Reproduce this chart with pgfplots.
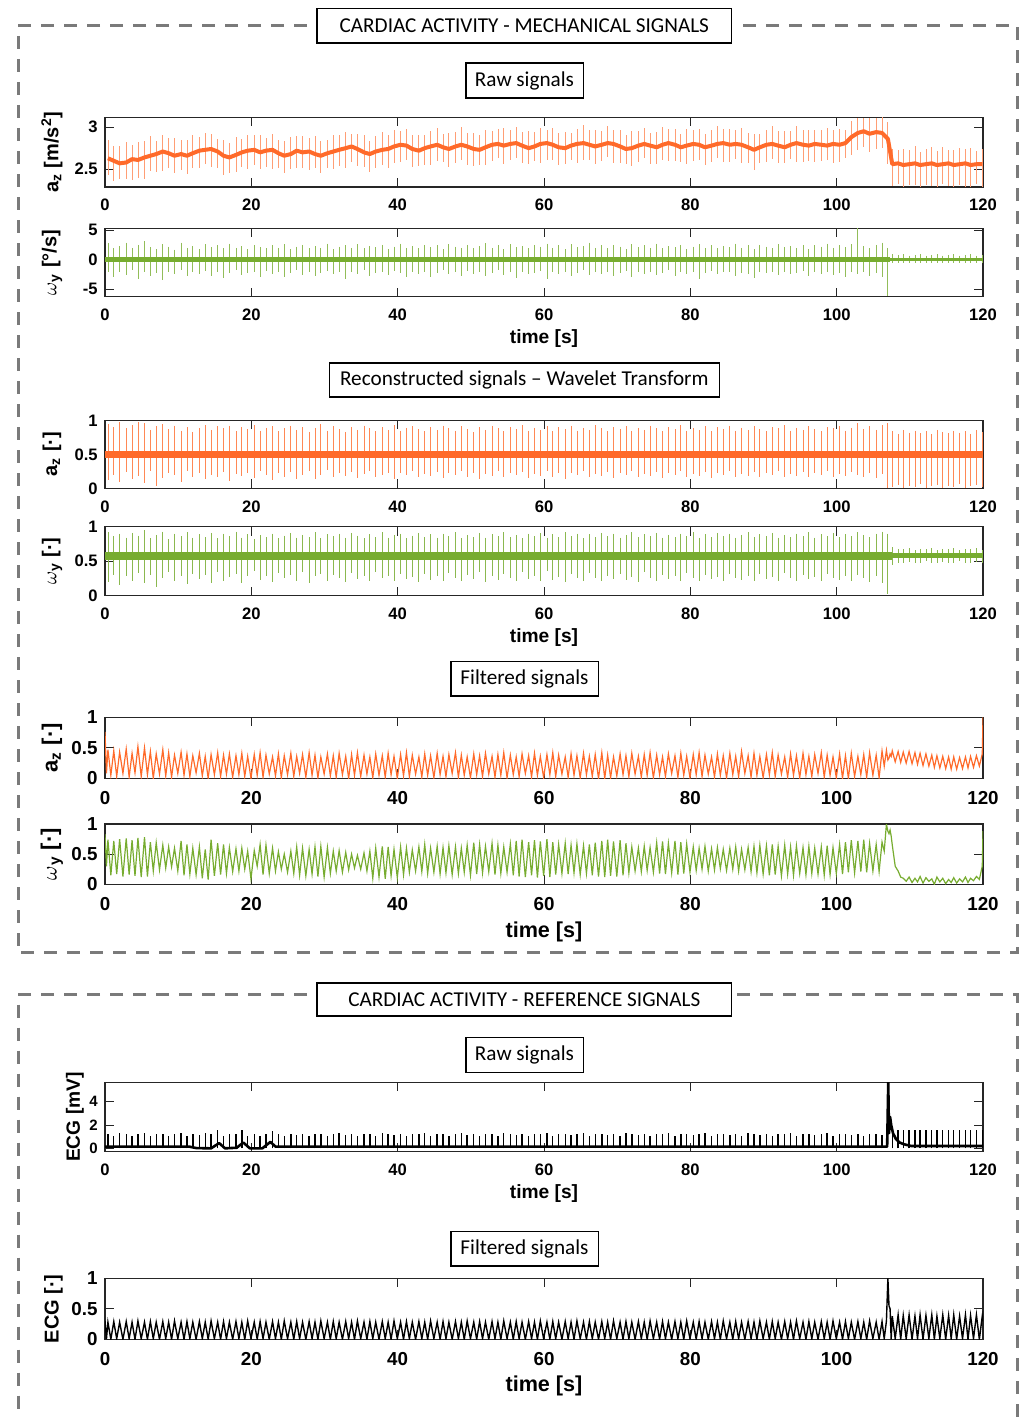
\documentclass[border=0pt]{standalone}
\usepackage{fontspec}
\setmainfont{Liberation Sans}
\newfontfamily\carlito{Carlito}
\usepackage{pgfplots}
\usepackage{pgfplotstable}
\pgfplotsset{compat=1.18}
\definecolor{oc}{RGB}{255,106,42}
\definecolor{gc}{RGB}{119,172,48}
\definecolor{dg}{RGB}{122,122,122}

% beat table: t, raw az baseline b, spike up u / down d (relative), raw wy top/bottom,
% recon az top/bottom, recon wy top/bottom, raw ECG R-peak
\pgfplotstableread{
t b u d wu wd ru rd qu qd eu
0.4 2.63 0.22 0.20 2.8 -2.1 0.95 0.12 0.92 0.20 1.25
1.2 2.60 0.18 0.24 1.9 -3.0 0.90 0.20 0.86 0.30 1.10
2.0 2.57 0.21 0.19 2.3 -2.0 0.97 0.10 0.90 0.16 1.30
2.9 2.58 0.24 0.20 2.9 -2.6 0.88 0.24 0.84 0.28 1.20
3.7 2.62 0.17 0.25 2.0 -1.8 0.93 0.14 0.91 0.22 1.05
4.5 2.61 0.21 0.21 2.5 -3.3 0.98 0.18 0.87 0.33 1.25
5.4 2.64 0.19 0.26 3.1 -2.1 0.96 0.08 0.95 0.18 1.30
6.2 2.66 0.23 0.18 2.1 -2.7 0.86 0.26 0.83 0.30 1.10
7.0 2.68 0.16 0.21 1.8 -2.3 0.91 0.04 0.88 0.12 1.20
7.9 2.71 0.20 0.23 2.6 -3.5 0.94 0.15 0.93 0.26 1.25
8.7 2.69 0.18 0.17 2.2 -2.0 0.87 0.22 0.82 0.35 1.10
9.5 2.66 0.21 0.20 1.7 -2.4 0.92 0.19 0.90 0.21 1.20
10.4 2.68 0.17 0.19 2.9 -1.8 0.85 0.10 0.86 0.29 1.30
11.2 2.66 0.19 0.22 2.0 -2.8 0.90 0.25 0.92 0.17 1.10
12.0 2.69 0.22 0.18 2.3 -2.1 0.83 0.16 0.84 0.32 1.20
12.9 2.72 0.16 0.20 1.8 -2.5 0.89 0.22 0.89 0.24 1.15
13.7 2.73 0.20 0.17 2.6 -1.9 0.93 0.13 0.85 0.30 1.30
14.5 2.74 0.18 0.21 2.1 -2.7 0.86 0.20 0.91 0.19 1.20
15.4 2.71 0.15 0.19 2.4 -2.0 0.91 0.17 0.83 0.34 1.55
16.2 2.66 0.19 0.23 1.9 -3.1 0.88 0.24 0.90 0.22 1.10
17.0 2.64 0.17 0.18 2.7 -2.2 0.92 0.11 0.86 0.27 1.20
17.9 2.67 0.21 0.20 2.0 -1.8 0.84 0.21 0.93 0.31 1.20
18.7 2.70 0.16 0.17 2.3 -2.6 0.90 0.18 0.84 0.18 1.60
19.5 2.72 0.19 0.22 1.8 -2.3 0.87 0.23 0.89 0.29 1.10
20.4 2.73 0.17 0.18 2.5 -2.0 0.93 0.15 0.82 0.36 1.20
21.2 2.70 0.20 0.20 2.1 -2.9 0.85 0.26 0.88 0.23 1.10
22.0 2.72 0.15 0.19 1.9 -1.9 0.89 0.19 0.85 0.28 1.25
22.9 2.73 0.19 0.23 2.4 -2.4 0.91 0.12 0.90 0.20 1.50
23.7 2.69 0.16 0.17 2.0 -2.1 0.84 0.22 0.83 0.33 1.20
24.5 2.66 0.18 0.20 2.6 -3.0 0.88 0.17 0.87 0.25 1.10
25.4 2.68 0.20 0.18 1.8 -2.2 0.92 0.24 0.91 0.30 1.20
26.2 2.72 0.17 0.21 2.2 -1.7 0.86 0.14 0.84 0.21 1.15
27.0 2.70 0.19 0.19 2.5 -2.6 0.90 0.20 0.88 0.35 1.25
27.9 2.71 0.16 0.22 1.9 -2.0 0.83 0.25 0.85 0.19 1.10
28.7 2.68 0.21 0.17 2.3 -2.8 0.89 0.13 0.92 0.28 1.20
29.5 2.66 0.18 0.20 2.0 -2.2 0.94 0.19 0.83 0.32 1.25
30.4 2.69 0.16 0.18 2.7 -1.9 0.85 0.27 0.89 0.22 1.10
31.2 2.71 0.20 0.21 1.8 -2.5 0.91 0.16 0.86 0.30 1.20
32.0 2.73 0.17 0.19 2.2 -2.1 0.87 0.22 0.90 0.26 1.30
32.9 2.75 0.19 0.23 2.4 -3.2 0.83 0.18 0.84 0.20 1.15
33.7 2.77 0.15 0.18 2.0 -2.0 0.90 0.24 0.91 0.33 1.20
34.5 2.74 0.18 0.20 2.6 -2.4 0.86 0.15 0.87 0.24 1.10
35.4 2.70 0.20 0.17 1.9 -1.8 0.92 0.21 0.83 0.29 1.25
36.2 2.68 0.16 0.21 2.3 -2.7 0.88 0.26 0.89 0.21 1.20
37.0 2.71 0.18 0.19 2.1 -2.2 0.84 0.17 0.85 0.34 1.10
37.9 2.73 0.21 0.18 2.5 -2.0 0.90 0.20 0.92 0.25 1.30
38.7 2.74 0.17 0.22 1.8 -2.6 0.86 0.23 0.84 0.28 1.20
39.5 2.77 0.19 0.19 2.2 -1.9 0.93 0.14 0.88 0.22 1.15
40.4 2.79 0.16 0.20 2.7 -2.3 0.85 0.22 0.90 0.31 1.25
41.2 2.78 0.20 0.17 2.0 -2.9 0.89 0.19 0.83 0.24 1.10
42.0 2.74 0.17 0.21 2.3 -2.1 0.91 0.25 0.87 0.27 1.20
42.9 2.72 0.19 0.18 1.9 -2.4 0.87 0.16 0.91 0.20 1.20
43.7 2.75 0.15 0.20 2.5 -2.0 0.84 0.21 0.85 0.32 1.30
44.5 2.77 0.18 0.22 2.1 -3.0 0.90 0.18 0.89 0.23 1.10
45.4 2.79 0.20 0.19 2.4 -2.2 0.86 0.24 0.84 0.29 1.20
46.2 2.76 0.16 0.17 1.8 -1.8 0.92 0.15 0.90 0.21 1.25
47.0 2.74 0.19 0.21 2.6 -2.5 0.88 0.22 0.86 0.33 1.10
47.9 2.77 0.17 0.19 2.2 -2.1 0.85 0.19 0.92 0.26 1.20
48.7 2.79 0.21 0.18 2.0 -2.7 0.91 0.26 0.83 0.22 1.30
49.5 2.77 0.16 0.22 2.5 -1.9 0.87 0.17 0.88 0.30 1.15
50.4 2.74 0.19 0.20 1.9 -2.4 0.83 0.23 0.85 0.24 1.20
51.2 2.73 0.17 0.18 2.3 -2.0 0.90 0.14 0.91 0.35 1.10
52.0 2.76 0.20 0.21 2.8 -2.8 0.86 0.21 0.84 0.20 1.25
52.9 2.79 0.16 0.19 2.0 -2.2 0.92 0.18 0.89 0.28 1.20
53.7 2.80 0.18 0.17 2.4 -1.8 0.88 0.25 0.86 0.23 1.10
54.5 2.78 0.21 0.22 1.8 -2.6 0.84 0.16 0.92 0.31 1.30
55.4 2.80 0.17 0.19 2.6 -2.1 0.90 0.22 0.85 0.25 1.20
56.2 2.81 0.19 0.18 2.1 -3.1 0.87 0.19 0.88 0.21 1.15
57.0 2.78 0.16 0.21 2.3 -2.0 0.93 0.24 0.83 0.34 1.25
57.9 2.75 0.20 0.19 1.9 -2.4 0.85 0.15 0.90 0.24 1.10
58.7 2.77 0.17 0.17 2.5 -2.2 0.89 0.21 0.86 0.29 1.20
59.5 2.80 0.19 0.22 2.2 -1.9 0.86 0.18 0.91 0.22 1.20
60.4 2.81 0.16 0.20 2.7 -3.3 0.91 0.25 0.84 0.36 1.30
61.2 2.79 0.20 0.18 2.0 -2.1 0.84 0.17 0.89 0.23 1.10
62.0 2.76 0.17 0.21 2.4 -2.5 0.90 0.22 0.85 0.27 1.25
62.9 2.75 0.19 0.19 1.8 -2.0 0.87 0.14 0.92 0.20 1.20
63.7 2.78 0.15 0.17 2.6 -2.7 0.92 0.23 0.86 0.31 1.15
64.5 2.80 0.18 0.22 2.1 -2.2 0.85 0.19 0.90 0.25 1.20
65.4 2.81 0.21 0.20 2.3 -1.8 0.89 0.26 0.83 0.22 1.30
66.2 2.79 0.17 0.18 2.9 -2.6 0.86 0.16 0.89 0.33 1.10
67.0 2.77 0.19 0.21 2.0 -2.1 0.93 0.21 0.85 0.26 1.20
67.9 2.79 0.16 0.19 2.4 -2.4 0.88 0.18 0.91 0.21 1.25
68.7 2.81 0.20 0.17 1.9 -2.0 0.84 0.24 0.86 0.29 1.15
69.5 2.80 0.17 0.22 2.5 -2.8 0.90 0.15 0.90 0.24 1.20
70.4 2.77 0.19 0.20 2.2 -2.2 0.87 0.22 0.84 0.32 1.10
71.2 2.74 0.16 0.18 1.8 -1.9 0.91 0.19 0.88 0.23 1.30
72.0 2.75 0.20 0.21 2.6 -3.0 0.85 0.25 0.92 0.27 1.20
72.9 2.78 0.17 0.19 2.1 -2.1 0.89 0.16 0.85 0.20 1.15
73.7 2.80 0.19 0.17 2.4 -2.5 0.86 0.21 0.89 0.34 1.25
74.5 2.78 0.15 0.22 2.0 -2.0 0.92 0.18 0.86 0.25 1.10
75.4 2.76 0.18 0.20 2.7 -2.6 0.88 0.24 0.91 0.22 1.20
76.2 2.79 0.21 0.18 1.9 -2.2 0.84 0.15 0.84 0.30 1.20
77.0 2.81 0.17 0.21 2.3 -1.8 0.90 0.22 0.88 0.24 1.30
77.9 2.79 0.19 0.19 2.1 -2.7 0.87 0.19 0.85 0.28 1.10
78.7 2.76 0.16 0.17 2.5 -2.1 0.93 0.26 0.90 0.21 1.25
79.5 2.78 0.20 0.22 1.8 -2.4 0.85 0.17 0.86 0.33 1.20
80.4 2.80 0.17 0.20 2.2 -2.0 0.89 0.21 0.92 0.25 1.15
81.2 2.79 0.19 0.18 2.6 -3.2 0.86 0.18 0.84 0.22 1.20
82.0 2.76 0.16 0.21 2.0 -2.2 0.91 0.24 0.89 0.30 1.30
82.9 2.78 0.18 0.19 2.4 -1.9 0.84 0.15 0.85 0.24 1.10
83.7 2.80 0.21 0.17 1.9 -2.5 0.90 0.22 0.91 0.27 1.20
84.5 2.81 0.17 0.22 2.3 -2.1 0.87 0.19 0.86 0.21 1.25
85.4 2.79 0.19 0.20 2.1 -2.0 0.92 0.25 0.90 0.32 1.15
86.2 2.80 0.16 0.18 2.7 -2.8 0.85 0.16 0.84 0.25 1.20
87.0 2.79 0.20 0.21 2.0 -2.2 0.89 0.21 0.88 0.23 1.10
87.9 2.76 0.17 0.19 2.4 -2.4 0.86 0.18 0.92 0.29 1.30
88.7 2.73 0.19 0.24 1.8 -3.1 0.91 0.24 0.85 0.22 1.20
89.5 2.76 0.16 0.18 2.5 -2.0 0.87 0.17 0.89 0.31 1.15
90.4 2.79 0.18 0.20 2.2 -2.3 0.84 0.22 0.86 0.24 1.25
91.2 2.80 0.21 0.18 1.9 -2.1 0.90 0.19 0.91 0.27 1.10
92.0 2.78 0.17 0.21 2.6 -2.6 0.88 0.25 0.84 0.21 1.20
92.9 2.76 0.19 0.19 2.1 -2.0 0.93 0.16 0.88 0.33 1.20
93.7 2.79 0.16 0.17 2.3 -2.4 0.85 0.21 0.85 0.25 1.30
94.5 2.81 0.20 0.22 2.0 -2.2 0.89 0.18 0.90 0.22 1.10
95.4 2.79 0.17 0.20 2.5 -1.9 0.86 0.24 0.86 0.30 1.25
96.2 2.78 0.19 0.18 1.8 -2.7 0.91 0.17 0.92 0.24 1.20
97.0 2.80 0.16 0.21 2.4 -2.1 0.87 0.22 0.84 0.27 1.15
97.9 2.79 0.18 0.19 2.2 -2.5 0.84 0.19 0.89 0.21 1.20
98.7 2.78 0.21 0.17 2.7 -2.0 0.90 0.25 0.86 0.32 1.30
99.5 2.80 0.17 0.22 2.0 -2.6 0.88 0.16 0.91 0.25 1.10
100.4 2.79 0.19 0.20 2.4 -2.2 0.92 0.21 0.85 0.23 1.20
101.2 2.81 0.16 0.18 2.1 -2.9 0.85 0.18 0.89 0.29 1.25
102.0 2.88 0.19 0.21 2.6 -2.1 0.89 0.24 0.86 0.22 1.15
102.9 2.93 0.18 0.20 5.6 -2.4 0.96 0.20 0.92 0.30 1.20
103.7 2.95 0.16 0.19 2.3 -2.0 0.87 0.17 0.88 0.25 1.10
104.5 2.92 0.19 0.21 2.0 -2.8 0.91 0.22 0.85 0.20 1.25
105.4 2.94 0.17 0.20 2.5 -2.2 0.86 0.15 0.90 0.28 1.20
106.2 2.93 0.20 0.18 2.9 -3.0 0.93 0.21 0.93 0.18 1.15
107.0 2.86 0.20 0.30 2.0 -6.2 0.96 0.00 0.90 0.02 0.00
107.6 2.56 0.18 0.26 0.9 -0.6 0.84 0.02 0.70 0.45 1.60
108.4 2.57 0.16 0.24 0.8 -0.5 0.80 0.05 0.68 0.48 1.55
109.1 2.55 0.19 0.27 0.9 -0.6 0.86 0.00 0.67 0.47 1.60
109.9 2.56 0.17 0.25 0.7 -0.5 0.82 0.04 0.69 0.49 1.60
110.7 2.57 0.20 0.26 0.8 -0.6 0.85 0.02 0.66 0.47 1.55
111.4 2.55 0.16 0.28 0.9 -0.5 0.81 0.06 0.68 0.48 1.60
112.2 2.56 0.18 0.25 0.7 -0.6 0.84 0.01 0.67 0.50 1.60
113.0 2.57 0.19 0.27 0.8 -0.5 0.80 0.03 0.69 0.47 1.55
113.7 2.55 0.17 0.26 0.9 -0.6 0.86 0.05 0.66 0.48 1.60
114.5 2.56 0.20 0.24 0.7 -0.5 0.83 0.00 0.68 0.49 1.60
115.3 2.57 0.16 0.27 0.8 -0.6 0.81 0.04 0.67 0.47 1.55
116.0 2.55 0.18 0.26 0.9 -0.5 0.85 0.02 0.69 0.48 1.60
116.8 2.56 0.19 0.25 0.7 -0.6 0.82 0.06 0.66 0.50 1.60
117.6 2.57 0.17 0.28 0.8 -0.5 0.84 0.01 0.68 0.47 1.55
118.3 2.55 0.20 0.26 0.9 -0.6 0.80 0.03 0.67 0.48 1.60
119.1 2.56 0.16 0.24 0.7 -0.5 0.86 0.05 0.69 0.49 1.60
119.9 2.56 0.18 0.27 0.8 -0.6 0.83 0.02 0.66 0.47 1.55
}\beats

% filtered signals: peaks and troughs
\pgfplotstableread{
t fz fw fe
0 0.76 0.83 0.30
0.2 0.08 0.30 0.01
0.4 0.47 0.74 0.28
0.8 0.05 0.15 0.00
1.2 0.45 0.72 0.29
1.6 0.03 0.17 0.01
2.0 0.43 0.75 0.28
2.45 0.08 0.13 0.00
2.9 0.48 0.76 0.29
3.3 0.02 0.16 0.01
3.7 0.41 0.73 0.28
4.1 0.09 0.14 0.00
4.5 0.52 0.77 0.30
4.95 0.03 0.12 0.01
5.4 0.50 0.78 0.28
5.8 0.06 0.13 0.00
6.2 0.44 0.70 0.29
6.6 0.00 0.22 0.01
7.0 0.40 0.69 0.28
7.45 0.07 0.24 0.00
7.9 0.47 0.65 0.29
8.3 0.04 0.27 0.01
8.7 0.42 0.62 0.28
9.1 0.02 0.29 0.00
9.5 0.38 0.60 0.30
9.95 0.08 0.22 0.01
10.4 0.43 0.72 0.28
10.8 0.05 0.15 0.00
11.2 0.40 0.66 0.29
11.6 0.03 0.17 0.01
12.0 0.37 0.60 0.28
12.45 0.09 0.16 0.00
12.9 0.41 0.62 0.29
13.3 0.04 0.10 0.01
13.7 0.36 0.58 0.28
14.1 0.00 0.08 0.00
14.5 0.39 0.74 0.30
14.95 0.06 0.14 0.01
15.4 0.42 0.68 0.28
15.8 0.03 0.16 0.00
16.2 0.38 0.66 0.29
16.6 0.07 0.18 0.01
17.0 0.40 0.61 0.28
17.45 0.02 0.21 0.00
17.9 0.37 0.59 0.29
18.3 0.06 0.22 0.01
18.7 0.41 0.60 0.28
19.1 0.03 0.25 0.00
19.5 0.36 0.55 0.30
19.95 0.00 0.09 0.01
20.4 0.39 0.56 0.28
20.8 0.05 0.30 0.00
21.2 0.42 0.66 0.29
21.6 0.02 0.16 0.01
22.0 0.38 0.65 0.28
22.45 0.07 0.18 0.00
22.9 0.35 0.60 0.29
23.3 0.04 0.22 0.01
23.7 0.40 0.54 0.28
24.1 0.01 0.25 0.00
24.5 0.37 0.50 0.30
24.95 0.06 0.20 0.01
25.4 0.41 0.55 0.28
25.8 0.03 0.18 0.00
26.2 0.36 0.62 0.29
26.6 0.08 0.15 0.01
27.0 0.39 0.60 0.28
27.45 0.02 0.14 0.00
27.9 0.42 0.58 0.29
28.3 0.05 0.17 0.01
28.7 0.38 0.62 0.28
29.1 0.01 0.13 0.00
29.5 0.35 0.63 0.30
29.95 0.07 0.12 0.01
30.4 0.40 0.61 0.28
30.8 0.04 0.18 0.00
31.2 0.37 0.55 0.29
31.6 0.02 0.22 0.01
32.0 0.41 0.56 0.28
32.45 0.06 0.20 0.00
32.9 0.36 0.53 0.29
33.3 0.00 0.24 0.01
33.7 0.39 0.50 0.28
34.1 0.05 0.27 0.00
34.5 0.42 0.48 0.30
34.95 0.03 0.25 0.01
35.4 0.38 0.52 0.28
35.8 0.07 0.22 0.00
36.2 0.35 0.55 0.29
36.6 0.01 0.10 0.01
37.0 0.40 0.60 0.28
37.45 0.05 0.12 0.00
37.9 0.37 0.63 0.29
38.3 0.02 0.09 0.01
38.7 0.41 0.62 0.28
39.1 0.06 0.14 0.00
39.5 0.36 0.58 0.30
39.95 0.00 0.11 0.01
40.4 0.39 0.62 0.28
40.8 0.04 0.16 0.00
41.2 0.42 0.60 0.29
41.6 0.03 0.20 0.01
42.0 0.38 0.57 0.28
42.45 0.07 0.22 0.00
42.9 0.35 0.62 0.29
43.3 0.02 0.21 0.01
43.7 0.40 0.66 0.28
44.1 0.05 0.18 0.00
44.5 0.37 0.60 0.30
44.95 0.01 0.20 0.01
45.4 0.41 0.63 0.28
45.8 0.06 0.17 0.00
46.2 0.36 0.61 0.29
46.6 0.03 0.19 0.01
47.0 0.39 0.64 0.28
47.45 0.08 0.16 0.00
47.9 0.42 0.62 0.29
48.3 0.02 0.18 0.01
48.7 0.38 0.60 0.28
49.1 0.05 0.20 0.00
49.5 0.35 0.65 0.30
49.95 0.01 0.15 0.01
50.4 0.40 0.69 0.28
50.8 0.06 0.17 0.00
51.2 0.37 0.66 0.29
51.6 0.03 0.19 0.01
52.0 0.41 0.63 0.28
52.45 0.07 0.21 0.00
52.9 0.36 0.68 0.29
53.3 0.02 0.16 0.01
53.7 0.39 0.65 0.28
54.1 0.05 0.18 0.00
54.5 0.42 0.62 0.30
54.95 0.01 0.20 0.01
55.4 0.38 0.67 0.28
55.8 0.06 0.15 0.00
56.2 0.35 0.72 0.29
56.6 0.03 0.13 0.01
57.0 0.40 0.74 0.28
57.45 0.08 0.12 0.00
57.9 0.37 0.70 0.29
58.3 0.02 0.15 0.01
58.7 0.41 0.73 0.28
59.1 0.05 0.11 0.00
59.5 0.36 0.71 0.30
59.95 0.01 0.14 0.01
60.4 0.39 0.75 0.28
60.8 0.06 0.12 0.00
61.2 0.42 0.70 0.29
61.6 0.03 0.16 0.01
62.0 0.38 0.66 0.28
62.45 0.07 0.18 0.00
62.9 0.35 0.68 0.29
63.3 0.02 0.17 0.01
63.7 0.40 0.65 0.28
64.1 0.05 0.19 0.00
64.5 0.37 0.67 0.30
64.95 0.01 0.16 0.01
65.4 0.41 0.64 0.28
65.8 0.06 0.18 0.00
66.2 0.36 0.66 0.29
66.6 0.03 0.15 0.01
67.0 0.39 0.69 0.28
67.45 0.00 0.13 0.00
67.9 0.42 0.72 0.29
68.3 0.00 0.12 0.01
68.7 0.38 0.74 0.28
69.1 0.01 0.14 0.00
69.5 0.35 0.71 0.30
69.95 0.04 0.13 0.01
70.4 0.40 0.73 0.28
70.8 0.06 0.15 0.00
71.2 0.37 0.68 0.29
71.6 0.03 0.19 0.01
72.0 0.41 0.62 0.28
72.45 0.07 0.22 0.00
72.9 0.36 0.60 0.29
73.3 0.02 0.21 0.01
73.7 0.39 0.63 0.28
74.1 0.05 0.23 0.00
74.5 0.42 0.61 0.30
74.95 0.01 0.20 0.01
75.4 0.38 0.69 0.28
75.8 0.06 0.18 0.00
76.2 0.35 0.71 0.29
76.6 0.03 0.17 0.01
77.0 0.40 0.68 0.28
77.45 0.08 0.19 0.00
77.9 0.37 0.72 0.29
78.3 0.02 0.16 0.01
78.7 0.41 0.70 0.28
79.1 0.05 0.18 0.00
79.5 0.36 0.67 0.30
79.95 0.01 0.20 0.01
80.4 0.39 0.62 0.28
80.8 0.06 0.23 0.00
81.2 0.42 0.60 0.29
81.6 0.03 0.25 0.01
82.0 0.38 0.63 0.28
82.45 0.07 0.22 0.00
82.9 0.35 0.59 0.29
83.3 0.02 0.24 0.01
83.7 0.40 0.61 0.28
84.1 0.05 0.26 0.00
84.5 0.37 0.58 0.30
84.95 0.01 0.23 0.01
85.4 0.41 0.60 0.28
85.8 0.06 0.25 0.00
86.2 0.36 0.62 0.29
86.6 0.03 0.22 0.01
87.0 0.44 0.58 0.28
87.45 0.08 0.24 0.00
87.9 0.37 0.61 0.29
88.3 0.02 0.21 0.01
88.7 0.41 0.63 0.28
89.1 0.05 0.19 0.00
89.5 0.36 0.65 0.30
89.95 0.01 0.17 0.01
90.4 0.39 0.64 0.28
90.8 0.06 0.15 0.00
91.2 0.42 0.66 0.29
91.6 0.03 0.16 0.01
92.0 0.38 0.63 0.28
92.45 0.07 0.14 0.00
92.9 0.35 0.65 0.29
93.3 0.02 0.17 0.01
93.7 0.40 0.62 0.28
94.1 0.05 0.15 0.00
94.5 0.37 0.64 0.30
94.95 0.01 0.18 0.01
95.4 0.41 0.61 0.28
95.8 0.06 0.16 0.00
96.2 0.36 0.63 0.29
96.6 0.03 0.18 0.01
97.0 0.39 0.60 0.28
97.45 0.08 0.17 0.00
97.9 0.42 0.62 0.29
98.3 0.02 0.15 0.01
98.7 0.38 0.64 0.28
99.1 0.05 0.16 0.00
99.5 0.35 0.61 0.30
99.95 0.01 0.18 0.01
100.4 0.40 0.66 0.28
100.8 0.00 0.17 0.00
101.2 0.37 0.70 0.29
101.6 0.00 0.20 0.01
102.0 0.41 0.73 0.28
102.45 0.03 0.19 0.00
102.9 0.36 0.72 0.29
103.3 0.06 0.21 0.01
103.7 0.39 0.74 0.28
104.1 0.02 0.20 0.00
104.5 0.42 0.68 0.30
104.95 0.05 0.22 0.01
105.4 0.38 0.66 0.28
105.8 0.01 0.21 0.00
106.2 0.45 0.70 0.29
106.5 0.20 0.55 0.01
106.8 0.46 1.00 0.30
107.0 0.30 0.88 1.00
107.15 0.33 0.84 0.55
107.3 0.40 0.90 0.50
107.45 0.36 0.80 0.00
107.6 0.45 0.65 0.38
108.0 0.27 0.30 0.01
108.4 0.44 0.22 0.40
108.75 0.26 0.12 0.00
109.1 0.43 0.10 0.39
109.5 0.25 0.05 0.01
109.9 0.44 0.12 0.40
110.3 0.24 0.03 0.00
110.7 0.42 0.10 0.38
111.05 0.23 0.04 0.01
111.4 0.41 0.13 0.40
111.8 0.21 0.02 0.00
112.2 0.40 0.11 0.39
112.6 0.20 0.05 0.01
113.0 0.38 0.09 0.40
113.35 0.18 0.00 0.00
113.7 0.37 0.12 0.38
114.1 0.17 0.04 0.01
114.5 0.36 0.10 0.40
114.9 0.16 0.01 0.00
115.3 0.35 0.08 0.39
115.65 0.15 0.03 0.01
116.0 0.35 0.11 0.40
116.4 0.15 0.02 0.00
116.8 0.34 0.09 0.38
117.2 0.16 0.04 0.01
117.6 0.35 0.12 0.40
117.95 0.17 0.03 0.00
118.3 0.36 0.10 0.39
118.7 0.18 0.06 0.01
119.1 0.37 0.13 0.40
119.5 0.20 0.08 0.00
119.9 0.40 0.30 0.38
120.0 1.00 0.88 0.30
}\filt

\pgfplotsset{
  sig/.style={
    scale only axis, width=439pt, xmin=0, xmax=120, xtick={0,20,...,120},
    anchor=south west, tick align=inside, major tick length=4.5pt,
    axis line style={line width=0.6pt, black!85},
    every tick/.style={black!85, line width=0.5pt},
    /pgf/number format/assume math mode=true,
    tick label style={font=\bfseries\fontsize{8.3}{9}\selectfont},
    xticklabel style={anchor=center, yshift=-9pt},
    yticklabel style={anchor=east, inner sep=1pt, xshift=-2.5pt},
    every axis y label/.style={at={(axis description cs:-0.0604,0.5)}, rotate=90, anchor=center, font=\bfseries\fontsize{10}{12}\selectfont},
    every axis x label/.style={at={(axis description cs:0.5,0)}, anchor=center, yshift=-21pt, font=\bfseries\fontsize{9.6}{11}\selectfont},
  },
  big/.style={
    tick label style={font=\bfseries\fontsize{9.4}{10}\selectfont},
    xticklabel style={yshift=-1pt},
  },
  spk/.style={draw=none, mark=none, forget plot,
    error bars/y explicit, error bars/error mark=none,
    error bars/error bar style={draw=#1, line width=0.4pt, solid}},
}
\tikzset{
  ttl/.style={draw=black, line width=0.8pt, fill=white, inner sep=0pt, anchor=center,
    font=\carlito\fontsize{10.6}{12}\selectfont},
}

\begin{document}
\begin{tikzpicture}
\path[use as bounding box] (0,0) rectangle (512.5pt,-709pt);
% dashed frames
\draw[dg, line width=1.5pt, dash pattern=on 6.5pt off 5pt]
  (153.5pt,-13pt) -- (9pt,-13pt) -- (9pt,-476.35pt) -- (508.85pt,-476.35pt) -- (508.85pt,-13pt) -- (368.5pt,-13pt);
\draw[dg, line width=1.5pt, dash pattern=on 6.5pt off 5pt]
  (153.5pt,-497.35pt) -- (9pt,-497.35pt) -- (9pt,-720pt);
\draw[dg, line width=1.5pt, dash pattern=on 6.5pt off 5pt]
  (368.5pt,-497.35pt) -- (508.85pt,-497.35pt) -- (508.85pt,-720pt);

% titles
\node[ttl, minimum width=207.3pt, minimum height=17.3pt] at (262.15pt,-13pt) {CARDIAC ACTIVITY - MECHANICAL SIGNALS};
\node[ttl, minimum width=58.8pt, minimum height=17.5pt] at (262.25pt,-40.4pt) {Raw signals};
\node[ttl, minimum width=195pt, minimum height=17pt] at (262.15pt,-189.85pt) {Reconstructed signals – Wavelet Transform};
\node[ttl, minimum width=73.8pt, minimum height=17.15pt] at (262.25pt,-339.4pt) {Filtered signals};
\node[ttl, minimum width=207.3pt, minimum height=16.7pt] at (262.15pt,-499.7pt) {CARDIAC ACTIVITY - REFERENCE SIGNALS};
\node[ttl, minimum width=58.8pt, minimum height=17.5pt] at (262.25pt,-527.4pt) {Raw signals};
\node[ttl, minimum width=73.8pt, minimum height=17.15pt] at (262.25pt,-624.4pt) {Filtered signals};

% 1 raw a_z
\begin{axis}[sig, at={(52.5pt,-93.5pt)}, height=34.85pt, ymin=2.29, ymax=3.115, ytick={2.5,3},
  ylabel={a\textsubscript{z} [m/s\textsuperscript{2}]}]
\addplot[error bars/y dir=both, spk=oc!65] table[x=t, y=b, y error plus=u, y error minus=d] {\beats};
\addplot[oc, line width=2pt, line join=round] table[x=t, y=b] {\beats};
\end{axis}

% 2 raw omega_y
\begin{axis}[sig, at={(52.5pt,-148.35pt)}, height=34.2pt, ymin=-6.25, ymax=5.3, ytick={-5,0,5},
  ylabel={$\omega$\textsubscript{y} [°/s]}, xlabel={time [s]}]
\addplot[error bars/y dir=minus, spk=gc!80] table[x=t, y=wu, y error minus expr=\thisrow{wu}-\thisrow{wd}] {\beats};
\addplot[gc, line width=2.6pt] coordinates {(0,0) (107.3,0)};
\addplot[gc, line width=1.3pt] coordinates {(107.3,0) (120,0)};
\end{axis}

% 3 reconstructed a_z
\begin{axis}[sig, at={(52.5pt,-244.15pt)}, height=34pt, ymin=0, ymax=1, ytick={0,0.5,1},
  ylabel={a\textsubscript{z} [·]}]
\addplot[error bars/y dir=minus, spk=oc!80] table[x=t, y=ru, y error minus expr=\thisrow{ru}-\thisrow{rd}] {\beats};
\addplot[oc, line width=3.6pt] coordinates {(0,0.5) (120,0.5)};
\end{axis}

% 4 reconstructed omega_y
\begin{axis}[sig, at={(52.5pt,-297.85pt)}, height=34.5pt, ymin=0, ymax=1, ytick={0,0.5,1},
  ylabel={$\omega$\textsubscript{y} [·]}, xlabel={time [s]}]
\addplot[error bars/y dir=minus, spk=gc!85] table[x=t, y=qu, y error minus expr=\thisrow{qu}-\thisrow{qd}] {\beats};
\addplot[gc, line width=4pt] coordinates {(0,0.58) (107.5,0.58)};
\addplot[gc, line width=2.4pt] coordinates {(107.5,0.58) (120,0.58)};
\end{axis}

% 5 filtered a_z
\begin{axis}[sig, big, at={(52.5pt,-389.15pt)}, height=30.5pt, ymin=0, ymax=1, ytick={0,0.5,1},
  ylabel={a\textsubscript{z} [·]}, ylabel style={font=\bfseries\fontsize{11}{13}\selectfont}]
\addplot[oc, line width=0.6pt] table[x=t, y=fz] {\filt};
\end{axis}

% 6 filtered omega_y
\begin{axis}[sig, big, at={(52.5pt,-442.15pt)}, height=30.15pt, ymin=0, ymax=1, ytick={0,0.5,1},
  ylabel={$\omega$\textsubscript{y} [·]}, ylabel style={font=\bfseries\fontsize{11}{13}\selectfont},
  xlabel={time [s]}, xlabel style={yshift=-3pt, font=\bfseries\fontsize{10.8}{12}\selectfont}]
\addplot[gc, line width=0.6pt] table[x=t, y=fw] {\filt};
\end{axis}

% 7 raw ECG
\begin{axis}[sig, at={(52.5pt,-575.85pt)}, height=34.7pt, ymin=-0.29, ymax=5.67, ytick={0,2,4},
  yticklabel style={font=\bfseries\fontsize{7.5}{8}\selectfont, xshift=0pt},
  ylabel={ECG [mV]}, ylabel style={at={(axis description cs:-0.0342,0.5)}, font=\bfseries\fontsize{9.6}{11}\selectfont},
  xlabel={time [s]}]
\addplot[black, line width=1.3pt, line join=round] coordinates {
 (0,0.15) (11.5,0.15) (12.5,0.02) (14.5,0.0) (15.6,0.45) (16.4,0.0) (18,0.05) (18.9,0.5)
 (19.8,0.0) (21.5,0.0) (22.6,0.55) (23.3,0.15) (106.9,0.15) (107.05,5.7) (107.15,1.3)
 (107.3,2.7) (107.45,2.0) (107.7,1.3) (108.1,0.8) (108.6,0.5) (109.2,0.35) (110.2,0.2) (120,0.2)};
\addplot[black, ycomb, line width=0.7pt, mark=none] table[x=t, y=eu] {\beats};
\end{axis}

% 8 filtered ECG
\begin{axis}[sig, big, at={(52.5pt,-669.65pt)}, height=30.5pt, ymin=0, ymax=1, ytick={0,0.5,1},
  ylabel={ECG [·]}, ylabel style={at={(axis description cs:-0.0587,0.5)}},
  xlabel={time [s]}, xlabel style={yshift=-2.4pt, font=\bfseries\fontsize{10.8}{12}\selectfont}]
\addplot[black, line width=0.7pt] table[x=t, y=fe] {\filt};
\end{axis}
\end{tikzpicture}
\end{document}
